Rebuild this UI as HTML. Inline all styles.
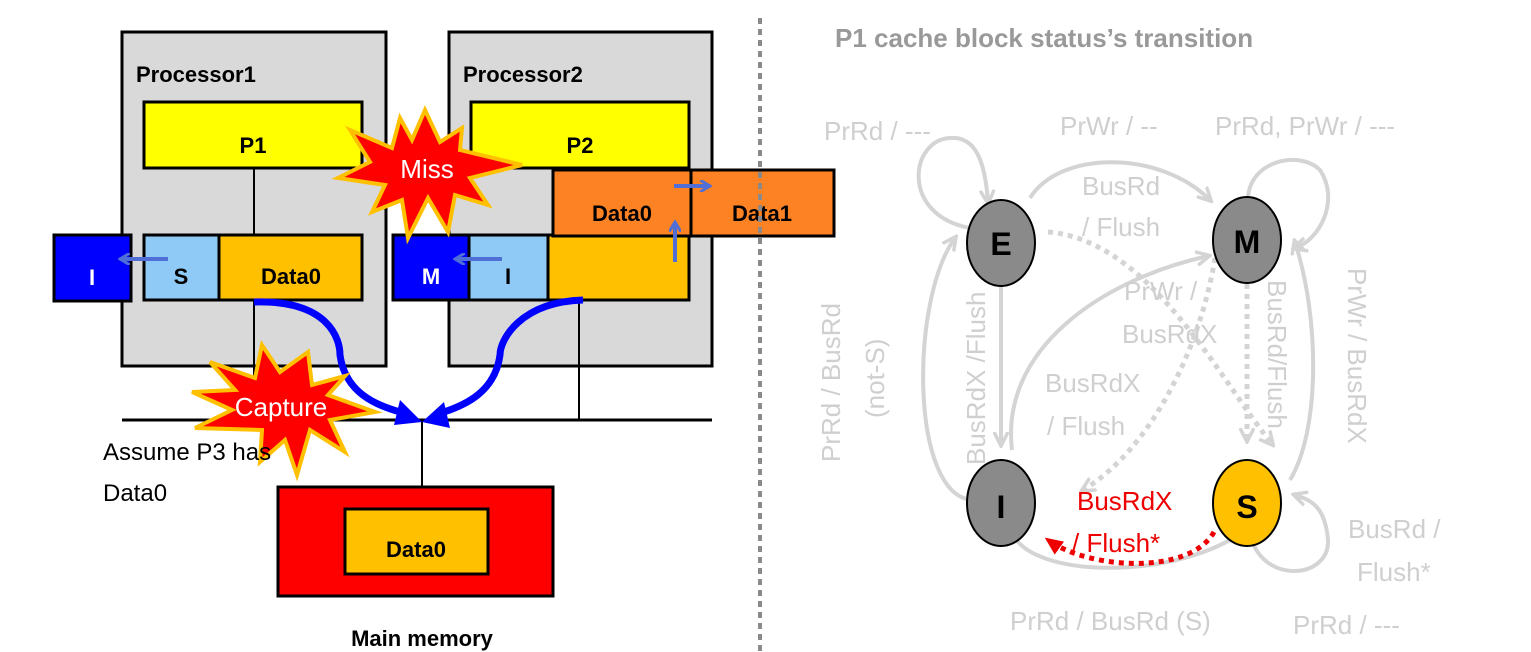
<!DOCTYPE html>
<html><head><meta charset="utf-8"><style>
html,body{margin:0;padding:0;background:#fff;}
svg{display:block;font-family:"Liberation Sans",sans-serif;}
</style></head><body>
<svg width="1531" height="652" viewBox="0 0 1531 652" xmlns="http://www.w3.org/2000/svg">
<defs>
<marker id="ag" markerWidth="16" markerHeight="16" refX="12" refY="8" orient="auto" markerUnits="userSpaceOnUse"><path d="M0,1 L14,8 L0,15" fill="none" stroke="#d4d4d4" stroke-width="3.5"/></marker>
<marker id="ar" markerWidth="20" markerHeight="20" refX="14" refY="10" orient="auto" markerUnits="userSpaceOnUse"><path d="M0,2 L18,10 L0,18 Z" fill="#ee0000"/></marker>
<marker id="bl" markerWidth="12" markerHeight="12" refX="10" refY="6" orient="auto" markerUnits="userSpaceOnUse"><path d="M0,0 L10,6 L0,12" fill="none" stroke="#4f6fd6" stroke-width="3"/></marker>
</defs>

<rect x="122" y="32" width="264" height="334" fill="#d9d9d9" stroke="#000" stroke-width="3"/>
<rect x="449" y="32" width="263" height="334" fill="#d9d9d9" stroke="#000" stroke-width="3"/>
<text x="136" y="82" font-size="22" font-weight="bold">Processor1</text>
<text x="463" y="82" font-size="22" font-weight="bold">Processor2</text>

<line x1="254" y1="168" x2="254" y2="420" stroke="#000" stroke-width="2"/>
<line x1="579" y1="300" x2="579" y2="420" stroke="#000" stroke-width="2"/>
<line x1="122" y1="420" x2="712" y2="420" stroke="#000" stroke-width="3"/>
<line x1="422" y1="420" x2="422" y2="487" stroke="#000" stroke-width="2"/>

<rect x="144" y="102" width="218" height="66" fill="#ffff00" stroke="#000" stroke-width="3"/>
<text x="253" y="153" font-size="22" font-weight="bold" text-anchor="middle">P1</text>
<rect x="471" y="102" width="218" height="66" fill="#ffff00" stroke="#000" stroke-width="3"/>
<text x="580" y="153" font-size="22" font-weight="bold" text-anchor="middle">P2</text>

<rect x="54" y="235" width="77" height="66" fill="#0000ff" stroke="#000" stroke-width="3"/>
<text x="92" y="285" font-size="22" font-weight="bold" fill="#fff" text-anchor="middle">I</text>
<rect x="144" y="235" width="75" height="65" fill="#8fc9f5" stroke="#000" stroke-width="3"/>
<text x="181" y="284" font-size="22" font-weight="bold" text-anchor="middle">S</text>
<rect x="219" y="235" width="143" height="65" fill="#ffc000" stroke="#000" stroke-width="3"/>
<text x="291" y="284" font-size="22" font-weight="bold" text-anchor="middle">Data0</text>
<line x1="168" y1="259" x2="120" y2="259" stroke="#4f6fd6" stroke-width="4" marker-end="url(#bl)"/>

<rect x="393" y="235" width="76" height="65" fill="#0000ff" stroke="#000" stroke-width="3"/>
<text x="431" y="284" font-size="22" font-weight="bold" fill="#fff" text-anchor="middle">M</text>
<rect x="469" y="235" width="79" height="65" fill="#8fc9f5" stroke="#000" stroke-width="3"/>
<text x="508" y="284" font-size="22" font-weight="bold" text-anchor="middle">I</text>
<rect x="548" y="235" width="141" height="65" fill="#ffc000" stroke="#000" stroke-width="3"/>
<line x1="502" y1="259" x2="455" y2="259" stroke="#4f6fd6" stroke-width="4" marker-end="url(#bl)"/>
<rect x="553" y="170" width="138" height="66" fill="#fd8224" stroke="#000" stroke-width="3"/>
<rect x="691" y="170" width="143" height="66" fill="#fd8224" stroke="#000" stroke-width="3"/>
<text x="622" y="221" font-size="22" font-weight="bold" text-anchor="middle">Data0</text>
<text x="762" y="221" font-size="22" font-weight="bold" text-anchor="middle">Data1</text>
<line x1="674" y1="186" x2="710" y2="186" stroke="#4f6fd6" stroke-width="4" marker-end="url(#bl)"/>
<line x1="675" y1="262" x2="675" y2="222" stroke="#4f6fd6" stroke-width="4" marker-end="url(#bl)"/>

<!-- blue curves -->
<path d="M254,302 C330,300 340,340 340,355 C345,392 375,405 400,412" fill="none" stroke="#0000ff" stroke-width="7"/>
<polygon points="422,422 394,425 400,400" fill="#0000ff"/>
<path d="M583,300 C520,302 500,340 500,355 C495,392 465,405 444,412" fill="none" stroke="#0000ff" stroke-width="7"/>
<polygon points="422,422 450,428 444,402" fill="#0000ff"/>

<polygon points="425,110 440,142 462,128 460,150 522,165 470,178 488,205 455,195 448,232 428,198 408,238 402,200 372,212 385,185 338,178 370,162 350,130 392,148 400,118 412,140" fill="#ff0000" stroke="#ffc000" stroke-width="4"/>
<text x="427" y="178" font-size="26" fill="#fff" text-anchor="middle">Miss</text>

<polygon points="308,352 312,385 345,376 328,395 375,412 330,420 345,452 310,430 297,475 285,440 260,462 262,430 195,428 232,410 192,392 235,390 210,362 255,378 262,345 280,372" fill="#ff0000" stroke="#ffc000" stroke-width="4"/>
<text x="281" y="416" font-size="26" fill="#fff" text-anchor="middle">Capture</text>

<text x="103" y="460" font-size="24">Assume P3 has</text>
<text x="103" y="501" font-size="24">Data0</text>

<rect x="278" y="487" width="275" height="109" fill="#ff0000" stroke="#000" stroke-width="3"/>
<rect x="345" y="509" width="143" height="65" fill="#ffc000" stroke="#000" stroke-width="3"/>
<text x="416" y="557" font-size="22" font-weight="bold" text-anchor="middle">Data0</text>
<text x="422" y="646" font-size="22" font-weight="bold" text-anchor="middle">Main memory</text>

<line x1="760" y1="18" x2="760" y2="652" stroke="#8a8a8a" stroke-width="4" stroke-dasharray="6,5"/>

<text x="835" y="47" font-size="26" font-weight="bold" fill="#999">P1 cache block status’s transition</text>

<g fill="none" stroke="#d4d4d4" stroke-width="4">
<path d="M970,228 C900,215 910,140 950,138 C975,136 985,160 988,202" marker-end="url(#ag)"/>
<path d="M1248,198 C1250,160 1300,150 1320,170 C1340,200 1320,240 1295,248" marker-end="url(#ag)"/>
<path d="M1030,198 C1060,150 1160,150 1210,200" marker-end="url(#ag)"/>
<path d="M1001,286 L1001,444" marker-end="url(#ag)"/>
<path d="M972,500 C910,495 910,300 955,238" marker-end="url(#ag)"/>
<path d="M1012,450 C1000,350 1100,280 1208,256" marker-end="url(#ag)"/>
<path d="M1290,480 C1320,430 1320,320 1295,242" marker-end="url(#ag)"/>
<path d="M1012,532 C1030,580 1180,580 1245,530" marker-end="url(#ag)"/>
<path d="M1250,533 C1260,585 1330,580 1328,540 C1325,505 1310,500 1295,495" marker-end="url(#ag)"/>
</g>
<g fill="none" stroke="#d4d4d4" stroke-width="5" stroke-dasharray="5,5">
<path d="M1048,232 C1150,240 1220,380 1272,444" marker-end="url(#ag)" />
<path d="M1247,284 L1247,440" marker-end="url(#ag)"/>
<path d="M1215,258 C1200,350 1150,450 1083,490" marker-end="url(#ag)"/>
</g>
<path d="M1214,532 C1190,575 1090,570 1048,540" fill="none" stroke="#ee0000" stroke-width="5" stroke-dasharray="5,5" marker-end="url(#ar)"/>

<ellipse cx="1001" cy="243" rx="34" ry="43" fill="#8a8a8a" stroke="#000" stroke-width="2"/>
<ellipse cx="1247" cy="240" rx="34" ry="43" fill="#8a8a8a" stroke="#000" stroke-width="2"/>
<ellipse cx="1001" cy="503" rx="34" ry="43" fill="#8a8a8a" stroke="#000" stroke-width="2"/>
<ellipse cx="1247" cy="503" rx="34" ry="43" fill="#ffc000" stroke="#000" stroke-width="2"/>
<g font-size="32" font-weight="bold" text-anchor="middle">
<text x="1001" y="255">E</text><text x="1247" y="253">M</text>
<text x="1001" y="518">I</text><text x="1247" y="518">S</text>
</g>

<g font-size="26" fill="#cfcfcf">
<text x="824" y="140">PrRd / ---</text>
<text x="1060" y="135">PrWr / --</text>
<text x="1215" y="135">PrRd, PrWr / ---</text>
<text x="1082" y="195">BusRd</text>
<text x="1082" y="236">/ Flush</text>
<text x="1124" y="300">PrWr /</text>
<text x="1122" y="343">BusRdX</text>
<text x="1045" y="392">BusRdX</text>
<text x="1047" y="435">/ Flush</text>
<text x="1348" y="538">BusRd /</text>
<text x="1357" y="581">Flush*</text>
<text x="1010" y="630">PrRd / BusRd (S)</text>
<text x="1293" y="634">PrRd / ---</text>
<text transform="translate(840,462) rotate(-90)">PrRd / BusRd</text>
<text transform="translate(884,418) rotate(-90)">(not-S)</text>
<text transform="translate(985,465) rotate(-90)">BusRdX /Flush</text>
<text transform="translate(1268,280) rotate(90)">BusRd/Flush</text>
<text transform="translate(1348,268) rotate(90)">PrWr / BusRdX</text>
</g>
<g font-size="26" fill="#ee0000">
<text x="1077" y="510">BusRdX</text>
<text x="1072" y="552">/ Flush*</text>
</g>
</svg>
</body></html>
